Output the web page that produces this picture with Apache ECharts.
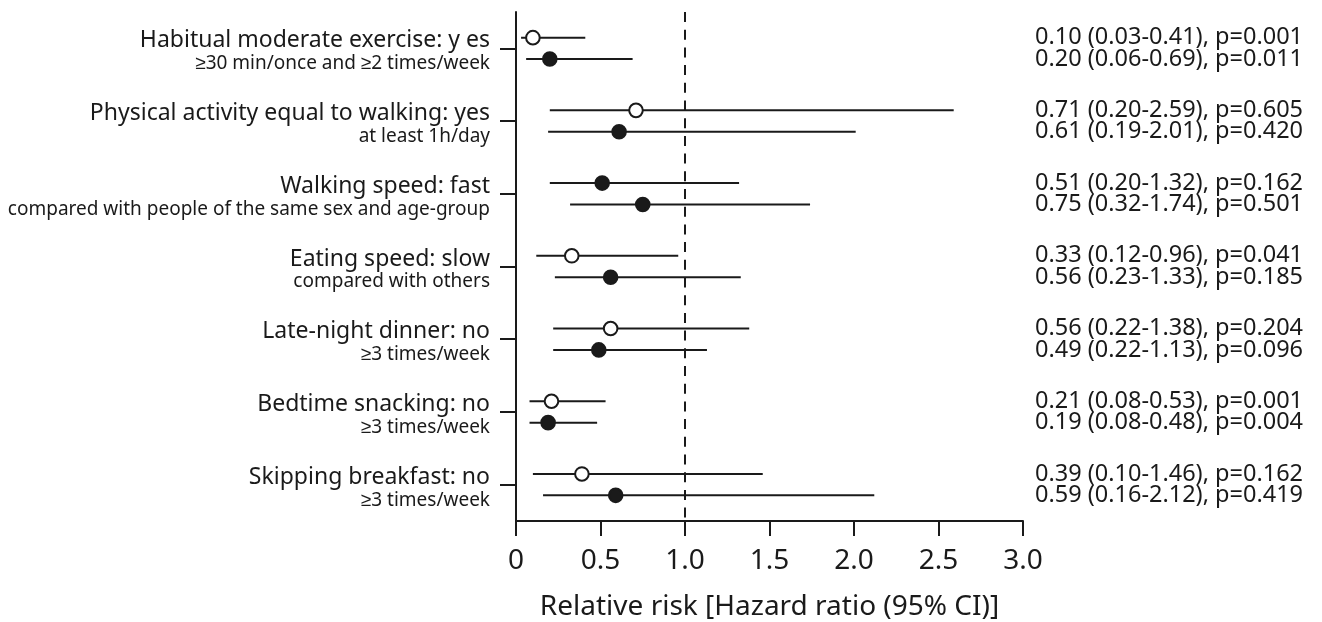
<!DOCTYPE html>
<html>
<head>
<meta charset="utf-8">
<script src="https://cdn.jsdelivr.net/npm/echarts@6/dist/echarts.min.js"></script>
<style>
html,body{margin:0;padding:0;background:#fff;}
#chart{width:1322px;height:622px;}
</style>
</head>
<body>
<div id="chart"></div>
<script>
// ---- data ----
const mainLabels = [
  'Habitual moderate exercise: y es',
  'Physical activity equal to walking: yes',
  'Walking speed: fast',
  'Eating speed: slow',
  'Late-night dinner: no',
  'Bedtime snacking: no',
  'Skipping breakfast: no'
];
const subLabels = [
  '≥30 min/once and ≥2 times/week',
  'at least 1h/day',
  'compared with people of the same sex and age-group',
  'compared with others',
  '≥3 times/week',
  '≥3 times/week',
  '≥3 times/week'
];
// first row of each group
const hrTop   = [0.10, 0.71, 0.51, 0.33, 0.56, 0.21, 0.39];
const loTop   = [0.03, 0.20, 0.20, 0.12, 0.22, 0.08, 0.10];
const hiTop   = [0.41, 2.59, 1.32, 0.96, 1.38, 0.53, 1.46];
const pTop    = ['0.001', '0.605', '0.162', '0.041', '0.204', '0.001', '0.162'];
const openTop = [1, 1, 0, 1, 1, 1, 1];
// second row of each group
const hrBot   = [0.20, 0.61, 0.75, 0.56, 0.49, 0.19, 0.59];
const loBot   = [0.06, 0.19, 0.32, 0.23, 0.22, 0.08, 0.16];
const hiBot   = [0.69, 2.01, 1.74, 1.33, 1.13, 0.48, 2.12];
const pBot    = ['0.011', '0.420', '0.501', '0.185', '0.096', '0.004', '0.419'];
const openBot = [0, 0, 0, 0, 0, 0, 0];
const xTickLabels = ['0', '0.5', '1.0', '1.5', '2.0', '2.5', '3.0'];
const refLine = 1.0;

// ---- build ----
const fmt = v => v.toFixed(2);
const rows = [];
const texts = [];
for (let g = 0; g < mainLabels.length; g++) {
  rows.push([hrTop[g], g, 0, loTop[g], hiTop[g], openTop[g]]);
  texts.push(fmt(hrTop[g]) + ' (' + fmt(loTop[g]) + '-' + fmt(hiTop[g]) + '), p=' + pTop[g]);
  rows.push([hrBot[g], g, 1, loBot[g], hiBot[g], openBot[g]]);
  texts.push(fmt(hrBot[g]) + ' (' + fmt(loBot[g]) + '-' + fmt(hiBot[g]) + '), p=' + pBot[g]);
}
const FONT = '"Noto Sans", sans-serif';
const INK = '#1a1a1a';
const ROW_OFF = 10.7;

const chart = echarts.init(document.getElementById('chart'), null, {renderer: 'canvas'});
chart.setOption({
  animation: false,
  backgroundColor: '#fff',
  textStyle: {fontFamily: FONT, color: INK},
  grid: {left: 516, right: 299, top: 12, bottom: 101, containLabel: false, outerBoundsMode: 'none'},
  xAxis: {
    type: 'value', min: 0, max: 3, interval: 0.5,
    axisLine: {show: true, lineStyle: {color: INK, width: 2}},
    axisTick: {show: true, length: 15, lineStyle: {color: INK, width: 2}},
    splitLine: {show: false},
    axisLabel: {
      fontFamily: FONT, fontSize: 28, color: INK, margin: 26,
      formatter: v => xTickLabels[Math.round(v / 0.5)]
    },
    name: 'Relative risk [Hazard ratio (95% CI)]',
    nameLocation: 'middle', nameGap: 72,
    nameTextStyle: {fontFamily: FONT, fontSize: 28, color: INK}
  },
  yAxis: {
    type: 'category', inverse: true, boundaryGap: true,
    data: mainLabels,
    axisLine: {show: true, lineStyle: {color: INK, width: 2}},
    axisTick: {show: true, alignWithLabel: true, length: 16, lineStyle: {color: INK, width: 2}},
    splitLine: {show: false},
    axisLabel: {
      margin: 26, align: 'right', padding: [8, 0, 0, 0],
      formatter: (v, i) => '{a|' + v + '}\n{b|' + subLabels[i] + '}',
      rich: {
        a: {fontFamily: FONT, fontSize: 23, color: INK, lineHeight: 23, align: 'right'},
        b: {fontFamily: FONT, fontSize: 19, color: INK, lineHeight: 23, align: 'right'}
      }
    }
  },
  series: [{
    type: 'custom',
    clip: false,
    encode: {x: 0, y: 1},
    data: rows,
    renderItem: (params, api) => {
      const hr = api.value(0), g = api.value(1), r = api.value(2);
      const lo = api.value(3), hi = api.value(4), open = api.value(5);
      const c = api.coord([hr, g]);
      const y = c[1] + (r === 0 ? -ROW_OFF : ROW_OFF);
      const xl = api.coord([lo, g])[0];
      const xh = api.coord([hi, g])[0];
      const xt = api.coord([3, g])[0] + 12;
      return {
        type: 'group',
        children: [
          {type: 'line', shape: {x1: xl, y1: y, x2: xh, y2: y},
           style: {stroke: INK, lineWidth: 2}},
          {type: 'circle', shape: {cx: c[0], cy: y, r: 6.8},
           style: {fill: open ? '#fff' : INK, stroke: INK, lineWidth: 2}},
          {type: 'text', x: xt, y: y,
           style: {text: texts[params.dataIndex], font: '23.5px ' + FONT, fill: INK,
                   align: 'left', verticalAlign: 'middle'}}
        ]
      };
    },
    markLine: {
      silent: true, symbol: 'none', label: {show: false},
      lineStyle: {color: INK, width: 2, type: [10, 7.7]},
      data: [{xAxis: refLine}]
    }
  }]
});
</script>
</body>
</html>
